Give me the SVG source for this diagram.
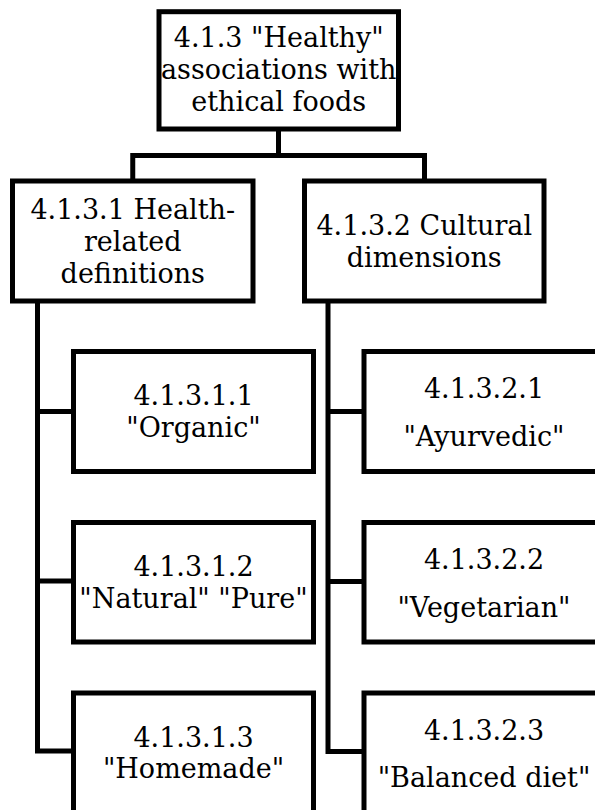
<svg xmlns="http://www.w3.org/2000/svg" width="595" height="810" viewBox="0 0 595 810">
  <style>
    .box { fill: #ffffff; stroke: #000000; stroke-width: 5; }
    .link { fill: none; stroke: #000000; stroke-width: 5; stroke-linejoin: miter; }
    text { font-family: "DejaVu Serif", "Liberation Serif", serif; font-size: 27px; fill: #000000; text-anchor: middle; }
  </style>
  <rect width="595" height="810" fill="#ffffff"/>

  <!-- tree connectors -->
  <g id="connectors">
    <path class="link" d="M278.5,129 V155.5"/>
    <path class="link" d="M132.75,181 V155.5 H424.5 V181"/>
    <path class="link" d="M37.5,301 V751 H73.5 M37.5,411.5 H73.5 M37.5,581 H73.5"/>
    <path class="link" d="M328,301 V751.5 H364 M328,411.5 H364 M328,581.5 H364"/>
  </g>

  <!-- root -->
  <g id="n413">
    <rect class="box" x="159" y="11.7" width="239.5" height="117.3"/>
    <text x="278.75" y="47">4.1.3 "Healthy"</text>
    <text x="278.75" y="79">associations with</text>
    <text x="278.75" y="111">ethical foods</text>
  </g>

  <!-- second level -->
  <g id="n4131">
    <rect class="box" x="12.5" y="181" width="240.5" height="120"/>
    <text x="132.75" y="218.5">4.1.3.1 Health-</text>
    <text x="132.75" y="250.5">related</text>
    <text x="132.75" y="282.5">definitions</text>
  </g>
  <g id="n4132">
    <rect class="box" x="304.5" y="181" width="239.5" height="120"/>
    <text x="424.25" y="235">4.1.3.2 Cultural</text>
    <text x="424.25" y="266.5">dimensions</text>
  </g>

  <!-- health-related leaves -->
  <g id="n41311">
    <rect class="box" x="73.5" y="351.5" width="240" height="120"/>
    <text x="193.5" y="405">4.1.3.1.1</text>
    <text x="193.5" y="436.5">"Organic"</text>
  </g>
  <g id="n41312">
    <rect class="box" x="73.5" y="522.5" width="240" height="119.5"/>
    <text x="193.5" y="576">4.1.3.1.2</text>
    <text x="193.5" y="607.5">"Natural" "Pure"</text>
  </g>
  <g id="n41313">
    <rect class="box" x="73.5" y="693" width="240" height="120"/>
    <text x="193.5" y="746.5">4.1.3.1.3</text>
    <text x="193.5" y="778">"Homemade"</text>
  </g>

  <!-- cultural leaves -->
  <g id="n41321">
    <rect class="box" x="364" y="351.5" width="240" height="120"/>
    <text x="484" y="398">4.1.3.2.1</text>
    <text x="484" y="446">"Ayurvedic"</text>
  </g>
  <g id="n41322">
    <rect class="box" x="364" y="522.5" width="240" height="119.5"/>
    <text x="484" y="568.5">4.1.3.2.2</text>
    <text x="484" y="617">"Vegetarian"</text>
  </g>
  <g id="n41323">
    <rect class="box" x="364" y="693" width="240" height="120"/>
    <text x="484" y="739.5">4.1.3.2.3</text>
    <text x="484" y="787">"Balanced diet"</text>
  </g>
</svg>
